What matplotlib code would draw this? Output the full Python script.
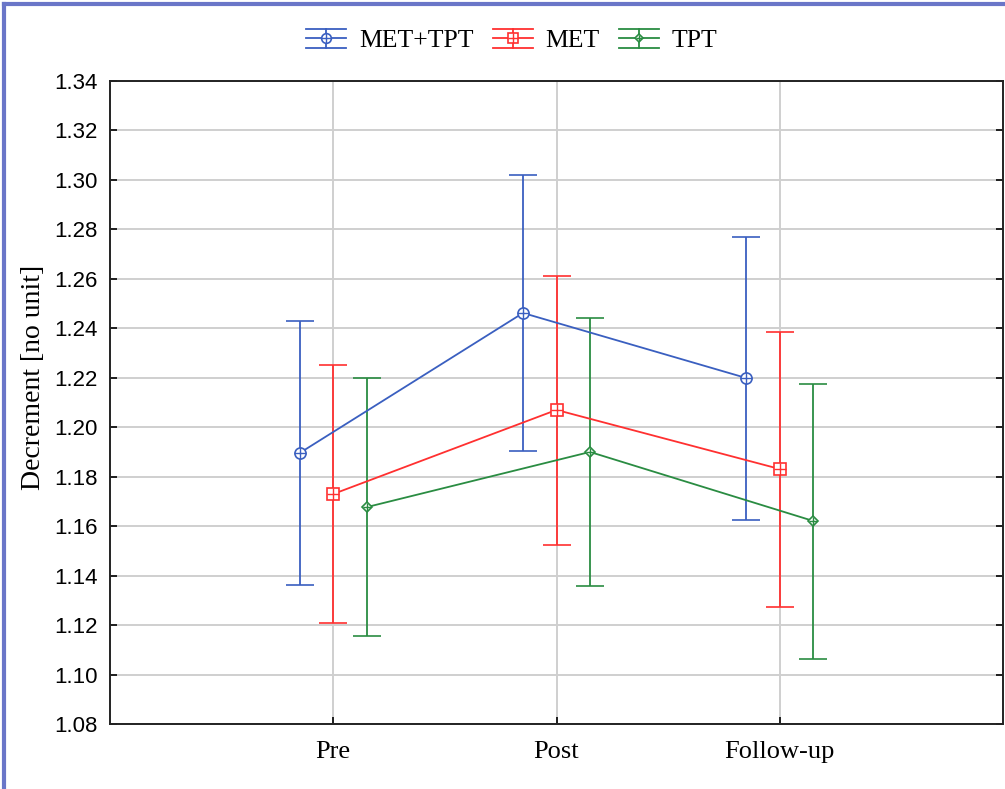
import matplotlib
matplotlib.use("Agg")
import matplotlib.pyplot as plt
from matplotlib.lines import Line2D
from matplotlib.legend_handler import HandlerBase
import numpy as np

categories = ["Pre", "Post", "Follow-up"]
series_names = ["MET+TPT", "MET", "TPT"]

met_tpt_mean = [1.1896, 1.2462, 1.2199]
met_tpt_upper = [1.2430, 1.3020, 1.2769]
met_tpt_lower = [1.1362, 1.1904, 1.1625]

met_mean = [1.1730, 1.2070, 1.1831]
met_upper = [1.2252, 1.2612, 1.2385]
met_lower = [1.1208, 1.1524, 1.1273]

tpt_mean = [1.1677, 1.1900, 1.1621]
tpt_upper = [1.2199, 1.2442, 1.2175]
tpt_lower = [1.1156, 1.1358, 1.1063]

yticks = [1.08, 1.10, 1.12, 1.14, 1.16, 1.18, 1.20, 1.22, 1.24, 1.26, 1.28, 1.30, 1.32, 1.34]

colors = ["#3a5fc0", "#ff3030", "#2a8c42"]
markers = ["o", "s", "D"]
msizes = [8, 8, 5.5]
offsets = [-0.15, 0.0, 0.15]


class ErrHandler(HandlerBase):
    def __init__(self, color, marker, ms):
        super().__init__()
        self.color = color
        self.marker = marker
        self.ms = ms

    def create_artists(self, legend, orig_handle, xdescent, ydescent, width, height, fontsize, trans):
        cy = height / 2 - ydescent
        cx = width / 2 - xdescent
        x0, x1 = -xdescent, width - xdescent
        dy = height * 0.55
        arts = [
            Line2D([x0, x1], [cy, cy], color=self.color, lw=1.3),
            Line2D([x0, x1], [cy + dy, cy + dy], color=self.color, lw=1.3),
            Line2D([x0, x1], [cy - dy, cy - dy], color=self.color, lw=1.3),
            Line2D([cx, cx], [cy - dy, cy + dy], color=self.color, lw=1.3),
            Line2D([cx], [cy], marker=self.marker, ms=self.ms, mfc="white", mec=self.color, mew=1.2, color=self.color),
            Line2D([cx], [cy], marker="+", ms=self.ms, mew=1.0, color=self.color),
        ]
        for a in arts:
            a.set_transform(trans)
        return arts


fig = plt.figure(figsize=(10.05, 7.89), dpi=100)
ax = fig.add_axes([110/1005, 1 - 724/789, (1003-110)/1005, (724-81)/789])

x = np.arange(1, len(categories) + 1)
data = [(met_tpt_mean, met_tpt_lower, met_tpt_upper),
        (met_mean, met_lower, met_upper),
        (tpt_mean, tpt_lower, tpt_upper)]

handles = []
hmap = {}
for i, (m, lo, up) in enumerate(data):
    m = np.array(m); lo = np.array(lo); up = np.array(up)
    xs = x + offsets[i]
    ax.errorbar(xs, m, yerr=[m - lo, up - m], color=colors[i], lw=1.3,
                elinewidth=1.3, capsize=10, capthick=1.3,
                marker=markers[i], ms=msizes[i], mfc="white", mec=colors[i],
                mew=1.2, zorder=3)
    ax.plot(xs, m, linestyle="none", marker="+", ms=msizes[i], color=colors[i], mew=1.0, zorder=4)
    h = Line2D([], [], color=colors[i])
    handles.append(h)
    hmap[h] = ErrHandler(colors[i], markers[i], msizes[i] - 1)

ax.set_xlim(0, 4)
ax.set_ylim(1.08, 1.34)
ax.set_yticks(yticks)
ax.set_yticklabels([f"{v:.2f}" for v in yticks], fontfamily="Liberation Sans", fontsize=16)
ax.set_xticks(x)
ax.set_xticklabels(categories, fontfamily="Liberation Serif", fontsize=19)
ax.tick_params(direction="in", length=5, width=1.2, top=False, right=True)
ax.tick_params(axis="x", pad=12)
ax.tick_params(axis="y", pad=9)
ax.grid(True, color="#cfcfcf", lw=1.4, zorder=0)
ax.set_axisbelow(True)
for s in ax.spines.values():
    s.set_linewidth(1.4)
    s.set_color("#222222")

ax.set_ylabel("Decrement [no unit]", fontfamily="Liberation Serif", fontsize=20, va="center")
ax.yaxis.set_label_coords((34 - 110) / 893, (724 - 377) / 643)

leg = fig.legend(handles=handles, labels=series_names, handler_map=hmap, loc="center",
                 bbox_to_anchor=(512/1005, 1 - 41/789),
                 ncol=3, frameon=False, prop={"family": "Liberation Serif", "size": 18.5},
                 handlelength=1.55, columnspacing=0.75, handletextpad=0.5)

fig.add_artist(Line2D([4/1005, 4/1005], [0, 1 - 4/789], transform=fig.transFigure, color="#6a76c8", lw=3))
fig.add_artist(Line2D([4/1005, 1], [1 - 4/789, 1 - 4/789], transform=fig.transFigure, color="#6a76c8", lw=3))

fig.savefig("out.png", dpi=100)
